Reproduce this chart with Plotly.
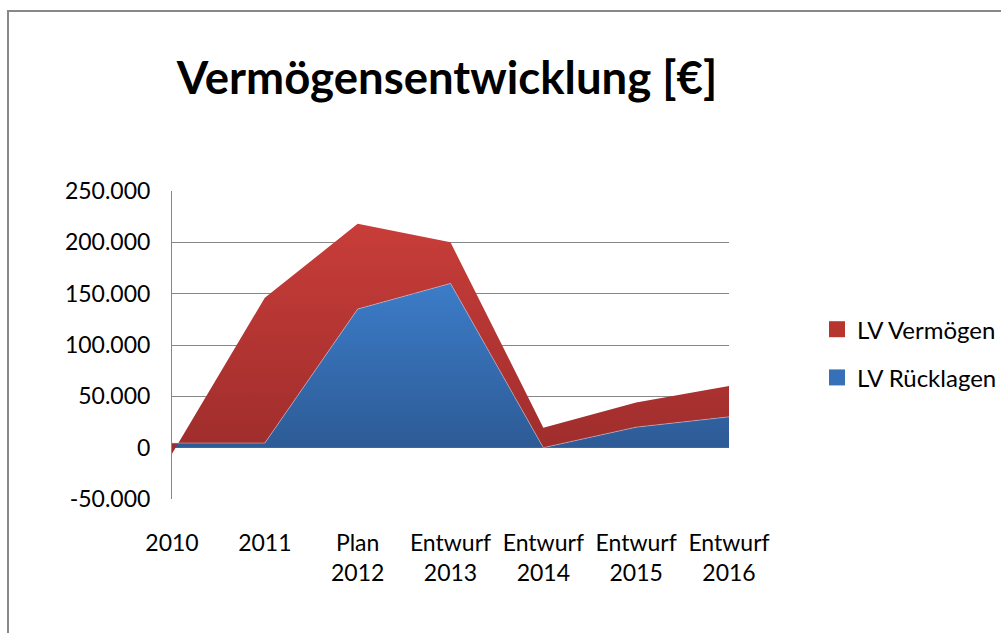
import plotly.graph_objects as go

categories = ["2010", "2011", "Plan<br>2012", "Entwurf<br>2013", "Entwurf<br>2014", "Entwurf<br>2015", "Entwurf<br>2016"]
ruecklagen = [4500, 4500, 135000, 160000, 0, 20000, 30000]
vermoegen = [-10500, 141500, 83000, 40000, 19500, 24000, 30000]
y_tickvals = [-50000, 0, 50000, 100000, 150000, 200000, 250000]
y_ticktext = ["-50.000", "0", "50.000", "100.000", "150.000", "200.000", "250.000"]

x = list(range(len(categories)))
FONT = "Lato, Carlito, Calibri, sans-serif"
RED_L, RED_D = "#C83D39", "#9E2D2C"
BLUE_L, BLUE_D = "#3C7CC8", "#2D5B96"

fig = go.Figure()
fig.add_trace(go.Scatter(
    x=x, y=ruecklagen, stackgroup="s", mode="lines", line=dict(width=0.6, color="rgba(200,215,235,0.8)"),
    fill="tozeroy", fillgradient=dict(type="vertical", colorscale=[[0, BLUE_D], [1, BLUE_L]]),
    showlegend=False, hoverinfo="skip"))
fig.add_trace(go.Scatter(
    x=x, y=vermoegen, stackgroup="s", mode="lines", line=dict(width=0),
    fill="tonexty", fillgradient=dict(type="vertical", colorscale=[[0, RED_D], [1, RED_L]]),
    showlegend=False, hoverinfo="skip"))

# legend entries
fig.add_trace(go.Scatter(x=[None], y=[None], mode="markers", name="LV Vermögen",
                         marker=dict(symbol="square", size=16, color="#B8342F"), legendgroup="a"))
fig.add_trace(go.Scatter(x=[None], y=[None], mode="markers", name="LV Rücklagen",
                         marker=dict(symbol="square", size=16, color="#3570B8"), legendgroup="b"))

# plot area in page px: x 172..729, y 191..499
fig.update_layout(
    width=1001, height=633,
    margin=dict(l=172, r=272, t=191, b=134, autoexpand=False),
    paper_bgcolor="white", plot_bgcolor="white",
    separators=",.",
    font=dict(family=FONT, size=23, color="black"),
    title=dict(text="<b>Vermögensentwicklung [€]</b>", x=447/1001, xanchor="center", xref="container",
               y=1-78/633, yanchor="middle", yref="container",
               font=dict(family=FONT, size=45.5, color="black")),
    xaxis=dict(range=[0, 6], tickvals=x, ticktext=categories, showgrid=False, zeroline=False,
               showline=False, ticks="", ticklabelstandoff=28, tickfont=dict(size=23)),
    yaxis=dict(range=[-50000, 250000], tickvals=y_tickvals, ticktext=y_ticktext,
               showgrid=True, gridcolor="#878787", gridwidth=1,
               zeroline=True, zerolinecolor="#878787", zerolinewidth=1,
               showline=True, linecolor="#878787", linewidth=1, ticks="",
               ticklabelstandoff=16, tickfont=dict(size=23)),
    legend=dict(x=(817-172)/557, xanchor="left", y=0.623, yanchor="top",
                font=dict(size=24), itemwidth=30, tracegroupgap=14, bgcolor="rgba(0,0,0,0)"),
    shapes=[dict(type="rect", xref="paper", yref="paper",
                 x0=(8-172)/557, x1=(1010-172)/557, y0=(499-640)/308, y1=(499-11)/308,
                 line=dict(color="#888888", width=2), layer="above")],
)

fig.write_html("out.html", config={"displayModeBar": False},
               post_script="document.body.style.margin='0';document.body.style.overflow='hidden';")
